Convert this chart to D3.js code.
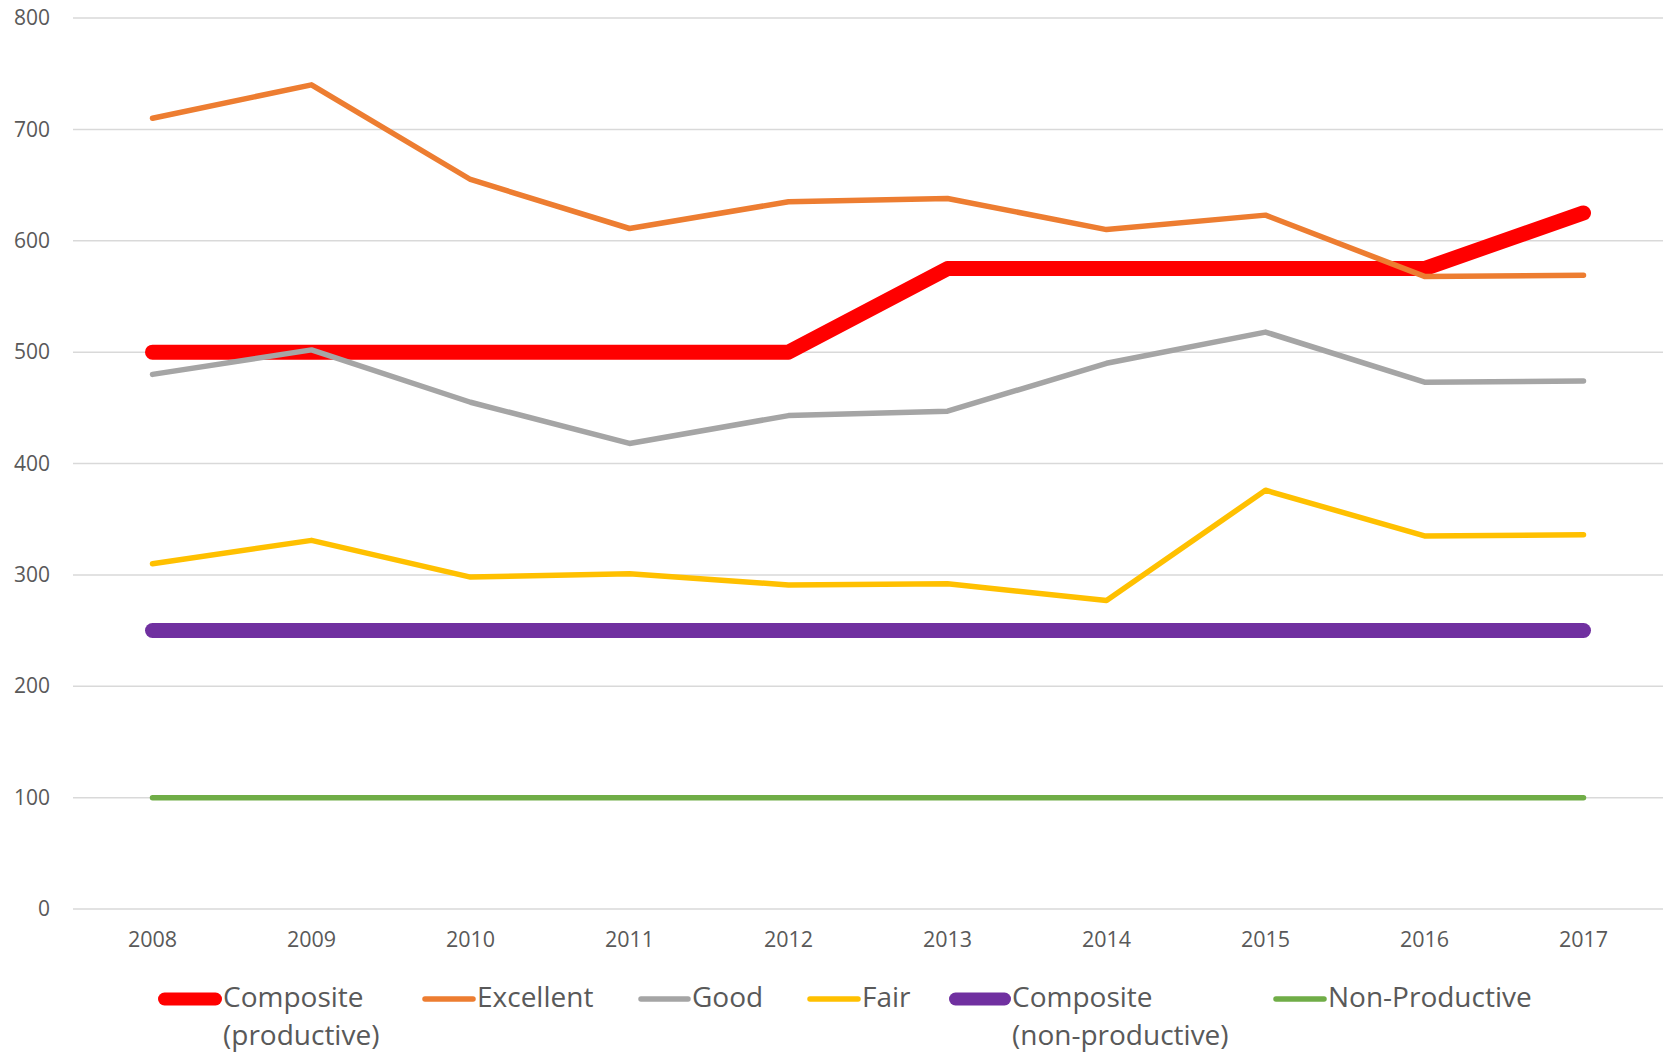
<!DOCTYPE html>
<html>
<head>
<meta charset="utf-8">
<script src="https://cdn.jsdelivr.net/npm/d3@7"></script>
<style>
  body { margin: 0; background: #fff; }
  svg text { font-family: "Open Sans", sans-serif; fill: #595959; }
</style>
</head>
<body>
<svg id="chart" width="1667" height="1055"></svg>
<script>
// data
var years = ["2008", "2009", "2010", "2011", "2012", "2013", "2014", "2015", "2016", "2017"];
var yTicks = [0, 100, 200, 300, 400, 500, 600, 700, 800];

var compositeProductive = [500, 500, 500, 500, 500, 575, 575, 575, 575, 625];
var excellent = [710, 740, 655, 611, 635, 638, 610, 623, 568, 569];
var good = [480, 502, 455, 418, 443, 447, 490, 518, 473, 474];
var fair = [310, 331, 298, 301, 291, 292, 277, 376, 335, 336];
var compositeNonProductive = [250, 250, 250, 250, 250, 250, 250, 250, 250, 250];
var nonProductive = [100, 100, 100, 100, 100, 100, 100, 100, 100, 100];

var seriesNames = [["Composite", "(productive)"], ["Excellent"], ["Good"], ["Fair"],
                   ["Composite", "(non-productive)"], ["Non-Productive"]];
var seriesColors = ["#ff0000", "#ed7d31", "#a5a5a5", "#ffc000", "#7030a0", "#70ad47"];
var seriesWidths = [15, 5.5, 5.5, 5.5, 15, 5.5];
var seriesValues = [compositeProductive, excellent, good, fair, compositeNonProductive, nonProductive];

// drawing order: thin lines over the thick ones like in the sheet
var drawOrder = [4, 0, 1, 2, 3, 5];

var svg = d3.select("#chart"),
    margin = { top: 18, right: 4, bottom: 146, left: 73 },
    width = +svg.attr("width") - margin.left - margin.right,
    height = +svg.attr("height") - margin.top - margin.bottom,
    g = svg.append("g").attr("transform", "translate(" + margin.left + "," + margin.top + ")");

var x = d3.scaleBand()
    .domain(years)
    .range([0, 1590]);

var y = d3.scaleLinear()
    .domain([0, 800])
    .range([891, 0]);

// gridlines
g.append("g")
    .attr("class", "grid")
    .selectAll("line")
    .data(yTicks)
    .enter().append("line")
    .attr("x1", 0)
    .attr("x2", width)
    .attr("y1", function(d) { return y(d); })
    .attr("y2", function(d) { return y(d); })
    .attr("stroke", "#d9d9d9")
    .attr("stroke-width", 1.5);

// y axis labels
var yAxis = g.append("g")
    .call(d3.axisLeft(y).tickValues(yTicks).tickSize(0).tickPadding(23));
yAxis.select(".domain").remove();
yAxis.selectAll("text")
    .style("font-size", "21px")
    .attr("fill", "#595959");

// x axis labels
var xAxis = g.append("g")
    .attr("transform", "translate(0," + y(0) + ")")
    .call(d3.axisBottom(x).tickSize(0).tickPadding(23));
xAxis.select(".domain").remove();
xAxis.selectAll("text")
    .style("font-size", "21.5px")
    .attr("fill", "#595959");

var line = d3.line()
    .x(function(d, i) { return x(years[i]) + x.bandwidth() / 2; })
    .y(function(d) { return y(d); });

drawOrder.forEach(function(s) {
    g.append("path")
        .datum(seriesValues[s])
        .attr("fill", "none")
        .attr("stroke", seriesColors[s])
        .attr("stroke-width", seriesWidths[s])
        .attr("stroke-linecap", "round")
        .attr("stroke-linejoin", "round")
        .attr("d", line);
});

// legend
var legendX = [158, 422, 638, 807, 949, 1273];
var legendSwatch = [64, 54, 53, 54, 62, 54];
var legend = svg.append("g").attr("class", "legend");

seriesNames.forEach(function(name, i) {
    var item = legend.append("g").attr("transform", "translate(" + legendX[i] + ",0)");
    var cap = seriesWidths[i] > 10 ? 6.5 : 3;
    item.append("line")
        .attr("x1", cap)
        .attr("x2", legendSwatch[i] - cap)
        .attr("y1", 999)
        .attr("y2", 999)
        .attr("stroke", seriesColors[i])
        .attr("stroke-width", seriesWidths[i] > 10 ? 13 : 5.5)
        .attr("stroke-linecap", "round");
    name.forEach(function(txt, j) {
        item.append("text")
            .attr("x", legendSwatch[i] + 1)
            .attr("y", 1007 + j * 38)
            .style("font-size", "28px")
            .text(txt);
    });
});
</script>
</body>
</html>
